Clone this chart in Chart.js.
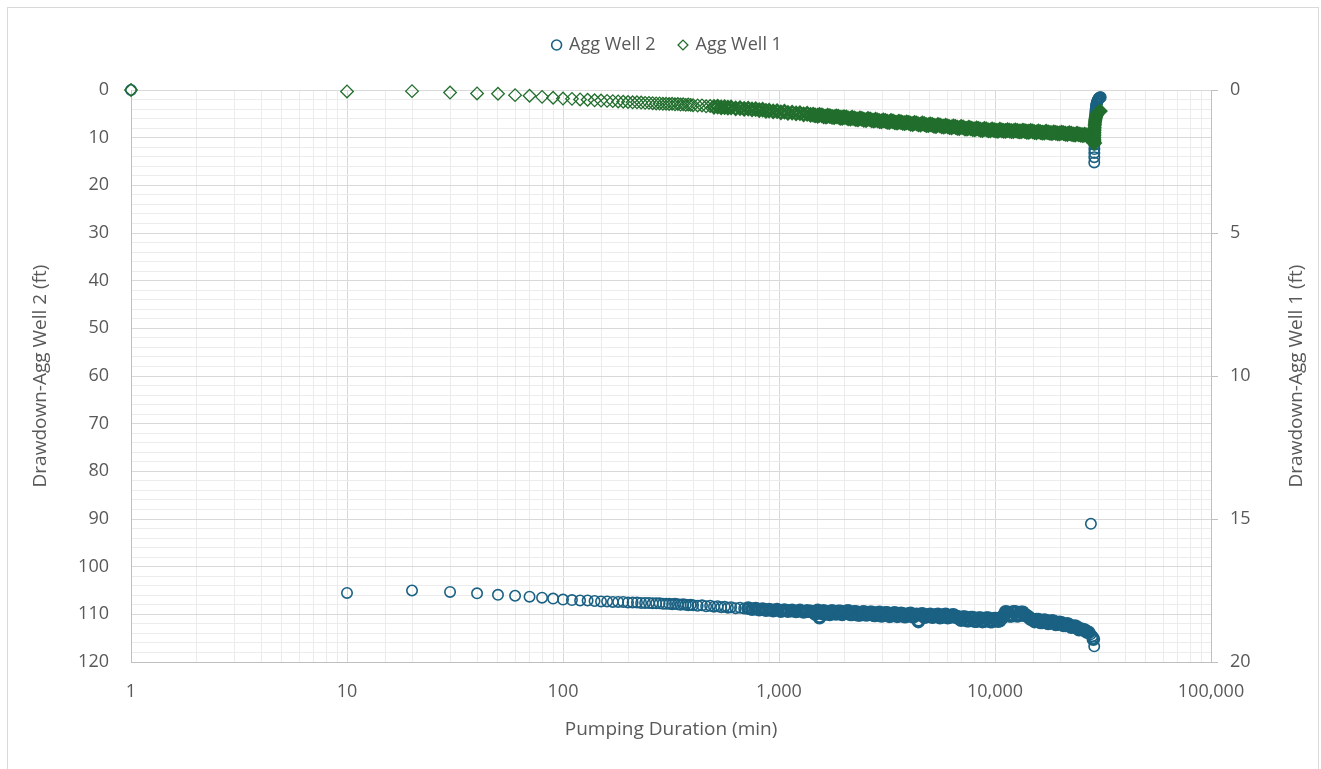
<!DOCTYPE html>
<html>
<head>
<meta charset="utf-8">
<title>Drawdown - Agg Wells</title>
<script src="https://cdn.jsdelivr.net/npm/chart.js@4.4.1/dist/chart.umd.min.js"></script>
<style>
  html, body { margin: 0; padding: 0; background: #ffffff; }
  #marco {
    position: absolute; left: 7px; top: 7px; width: 1312px; height: 800px;
    border: 1px solid #d9d9d9; box-sizing: border-box;
  }
  #contenedor { position: absolute; left: 0; top: 0; width: 1321px; height: 769px; }
</style>
</head>
<body>
<div id="marco"></div>
<div id="contenedor"><canvas id="grafica"></canvas></div>
<script>
// --- Datos ---
// Tiempo de bombeo (min) y luego recuperacion
const tiempos = [
  1, 10, 20, 30, 40, 50, 60, 70, 80, 90, 100,
  110, 120, 130, 140, 150, 160, 170, 180, 190, 200,
  210, 220, 230, 240, 250, 260, 270, 280, 290, 300,
  310, 320, 330, 340, 350, 360, 370, 380, 390, 400,
  420, 440, 460, 480, 500, 520, 540, 560, 580, 600,
  630, 660, 690, 720, 750, 780, 810, 840, 870, 900,
  940, 980, 1020, 1060, 1100, 1150, 1200, 1250, 1300, 1350, 1400,
  1440, 1470, 1510, 1540, 1580, 1610, 1650, 1680, 1720, 1760, 1800, 1840, 1880, 1920, 1960, 2000,
  2050, 2090, 2140, 2180, 2230, 2270, 2320, 2370, 2420, 2470, 2530, 2580, 2640, 2690, 2750, 2800,
  2860, 2920, 2980, 3040, 3110, 3170, 3240, 3300, 3370, 3440, 3520, 3590, 3670, 3740, 3820, 3900,
  3990, 4070, 4160, 4240, 4330, 4420, 4520, 4610, 4710, 4810, 4910, 5010, 5120, 5220, 5330, 5440,
  5560, 5670, 5790, 5910, 6040, 6160, 6290, 6420, 6560, 6690, 6830, 6970, 7120, 7260, 7420, 7570,
  7730, 7890, 8060, 8220, 8400, 8570, 8750, 8930, 9120, 9310, 9510, 9700, 9910, 10110, 10320, 10530,
  10750, 10970, 11200, 11430, 11670, 11910, 12160, 12410, 12670, 12930, 13200, 13470, 13760, 14040, 14340, 14630,
  14940, 15240, 15560, 15880, 16220, 16550, 16900, 17250, 17610, 17970, 18350, 18720, 19120, 19510, 19920, 20330,
  20760, 21180, 21630, 22070, 22540, 23000, 23490, 23970, 24480, 24980, 25510, 26030, 26580, 27120, 27690, 27800, 28260, 28530, 28800,
  28810, 28820, 28830, 28840, 28850, 28860, 28880, 28900, 28920, 28950,
  28980, 29020, 29060, 29100, 29150, 29200, 29260, 29330, 29400, 29480,
  29560, 29650, 29750, 29860, 29980, 30100, 30230, 30370, 30520, 30680, 30850
];

// Abatimiento Agg Well 2 (ft) - eje izquierdo
const abatimientoPozo2 = [
  0, 105.5, 105.0, 105.3, 105.6, 105.9, 106.1, 106.3, 106.5, 106.7, 106.9,
  107.0, 107.1, 107.1, 107.2, 107.3, 107.3, 107.4, 107.4, 107.4, 107.5,
  107.5, 107.5, 107.6, 107.6, 107.6, 107.7, 107.7, 107.7, 107.8, 107.8,
  107.8, 107.9, 107.8, 107.9, 108.0, 107.9, 108.0, 108.1, 108.0, 108.1,
  108.2, 108.1, 108.3, 108.2, 108.4, 108.3, 108.5, 108.4, 108.6, 108.5,
  108.7, 108.6, 108.8, 108.7, 108.9, 108.8, 109.0, 108.9, 109.1, 109.0,
  109.2, 109.0, 109.3, 109.1, 109.3, 109.2, 109.4, 109.2, 109.5, 109.3, 109.4,
  109.5, 109.9, 109.2, 110.7, 109.8, 109.3, 109.9, 109.5, 110.0, 109.3, 109.8, 109.9, 109.4, 109.4, 110.0, 109.8,
  109.4, 109.3, 110.0, 110.0, 109.5, 109.5, 110.1, 110.1, 109.6, 109.5, 110.1, 110.0, 109.6, 109.6, 110.2, 110.2,
  109.7, 109.6, 110.3, 110.2, 109.7, 109.7, 110.4, 110.3, 109.8, 109.7, 110.4, 110.3, 109.8, 109.9, 110.5, 110.4,
  109.9, 109.8, 110.5, 110.4, 110.0, 111.5, 110.0, 109.9, 110.6, 110.5, 110.1, 110.0, 110.6, 110.5, 110.1, 110.0,
  110.7, 110.6, 110.1, 110.0, 110.7, 110.6, 110.2, 110.1, 110.6, 110.5, 110.9, 111.2, 110.6, 110.6, 111.3, 111.3,
  110.7, 110.7, 111.4, 111.4, 110.8, 110.8, 111.5, 111.4, 110.8, 110.8, 111.5, 111.5, 110.9, 110.9, 111.4, 111.3,
  110.8, 110.2, 109.5, 109.6, 110.3, 110.3, 109.5, 109.5, 110.3, 110.2, 109.6, 109.6, 110.2, 110.3, 110.6, 111.0,
  111.1, 111.5, 111.1, 111.1, 111.7, 111.7, 111.2, 111.3, 111.9, 111.8, 111.4, 111.5, 112.1, 112.0, 111.7, 111.8,
  112.3, 112.3, 112.0, 112.2, 112.7, 112.6, 112.5, 112.7, 113.2, 113.1, 113.2, 113.3, 113.7, 113.8, 114.2, 91.0, 114.6, 115.2, 116.7,
  15.2, 14.1, 13.2, 12.4, 11.5, 10.8, 9.9, 9.1, 8.4, 7.6,
  6.9, 6.3, 5.8, 5.3, 4.8, 4.4, 4.0, 3.6, 3.3, 3.0,
  2.8, 2.6, 2.4, 2.2, 2.1, 1.9, 1.8, 1.7, 1.6, 1.5, 1.5
];

// Abatimiento Agg Well 1 (ft) - eje derecho
const abatimientoPozo1 = [
  0, 0.05, 0.04, 0.09, 0.12, 0.13, 0.18, 0.20, 0.24, 0.27, 0.30,
  0.31, 0.33, 0.34, 0.36, 0.37, 0.38, 0.39, 0.40, 0.41, 0.42,
  0.43, 0.43, 0.44, 0.45, 0.45, 0.46, 0.47, 0.47, 0.48, 0.48,
  0.49, 0.48, 0.50, 0.49, 0.51, 0.50, 0.52, 0.51, 0.52, 0.53,
  0.54, 0.54, 0.57, 0.56, 0.59, 0.58, 0.61, 0.60, 0.62, 0.61,
  0.64, 0.63, 0.66, 0.65, 0.68, 0.67, 0.70, 0.69, 0.73, 0.72,
  0.75, 0.74, 0.78, 0.76, 0.80, 0.79, 0.82, 0.81, 0.85, 0.83, 0.87,
  0.86, 0.89, 0.90, 0.87, 0.89, 0.92, 0.93, 0.90, 0.91, 0.94, 0.95, 0.92, 0.93, 0.97, 0.97, 0.95,
  0.96, 0.99, 1.00, 0.97, 0.99, 1.02, 1.03, 0.99, 1.01, 1.04, 1.05, 1.01, 1.03, 1.06, 1.07, 1.04,
  1.06, 1.09, 1.10, 1.06, 1.08, 1.11, 1.12, 1.08, 1.10, 1.13, 1.14, 1.11, 1.12, 1.15, 1.16, 1.13,
  1.15, 1.18, 1.19, 1.15, 1.17, 1.20, 1.21, 1.17, 1.19, 1.23, 1.23, 1.20, 1.22, 1.25, 1.26, 1.22,
  1.24, 1.27, 1.28, 1.25, 1.27, 1.30, 1.31, 1.27, 1.29, 1.32, 1.33, 1.29, 1.31, 1.35, 1.35, 1.32,
  1.34, 1.37, 1.38, 1.34, 1.36, 1.39, 1.40, 1.36, 1.38, 1.41, 1.41, 1.38, 1.40, 1.42, 1.43, 1.39,
  1.41, 1.43, 1.43, 1.40, 1.42, 1.44, 1.44, 1.41, 1.43, 1.45, 1.45, 1.42, 1.44, 1.46, 1.46, 1.43,
  1.45, 1.47, 1.48, 1.45, 1.47, 1.49, 1.49, 1.46, 1.48, 1.50, 1.51, 1.48, 1.50, 1.52, 1.52, 1.49,
  1.51, 1.53, 1.54, 1.51, 1.53, 1.55, 1.56, 1.53, 1.55, 1.57, 1.58, 1.56, 1.59, 1.61, 1.64, 1.63, 1.70, 1.76, 1.85,
  1.80, 1.74, 1.67, 1.60, 1.54, 1.48, 1.42, 1.36, 1.31, 1.25,
  1.20, 1.15, 1.11, 1.07, 1.03, 1.00, 0.97, 0.94, 0.91, 0.89,
  0.87, 0.85, 0.83, 0.81, 0.80, 0.78, 0.77, 0.76, 0.75, 0.74, 0.73
];

// Ejes
const ejeX = { min: 1, max: 100000 };
const ejeIzq = { min: 0, max: 120, paso: 2, pasoEtiqueta: 10 };
const ejeDer = { min: 0, max: 20, paso: 5 };

const GRIS_TEXTO = '#595959';
const GRIS_MAYOR = '#d9d9d9';
const GRIS_MENOR = '#ececec';
const GRIS_EJE = '#bfbfbf';

Chart.defaults.font.family = "'Open Sans', sans-serif";
Chart.defaults.color = GRIS_TEXTO;

// La leyenda ocupa mas alto para dejar el area de trazado en y=90
const ajusteLeyenda = {
  id: 'ajusteLeyenda',
  beforeLayout(chart) {
    const ley = chart.legend;
    if (ley && !ley._ajustada) {
      const fitOriginal = ley.fit.bind(ley);
      ley.fit = function () { fitOriginal(); this.height = 78; };
      ley._ajustada = true;
    }
  }
};

// Titulo del eje derecho leido de abajo hacia arriba, como en Excel
const tituloDerecho = {
  id: 'tituloDerecho',
  afterDraw(chart) {
    const { ctx, chartArea } = chart;
    ctx.save();
    ctx.translate(1297, (chartArea.top + chartArea.bottom) / 2);
    ctx.rotate(-Math.PI / 2);
    ctx.font = "19px 'Open Sans'";
    ctx.fillStyle = GRIS_TEXTO;
    ctx.textAlign = 'center';
    ctx.textBaseline = 'middle';
    ctx.fillText('Drawdown-Agg Well 1 (ft)', 0, 0);
    ctx.restore();
  }
};

function esPotenciaDiez(v) {
  const l = Math.log10(v);
  return Math.abs(l - Math.round(l)) < 1e-9;
}

// En el tramo denso del bombeo (miles de lecturas en el original) los
// marcadores se amontonan y forman una banda llena: se engruesa el trazo
function grosorBanda(valores, fino, grueso, umbral, desde) {
  return (c) => {
    const i = c.dataIndex;
    const t = tiempos[i];
    if (t < desde || t > 28800) return fino;
    const cerca = (v) => v !== undefined && Math.abs(v - valores[i]) < umbral;
    return (cerca(valores[i - 1]) && cerca(valores[i + 1])) ? grueso : fino;
  };
}

const ctx = document.getElementById('grafica').getContext('2d');
new Chart(ctx, {
  type: 'scatter',
  data: {
    datasets: [
      {
        label: 'Agg Well 1',
        data: tiempos.map((t, i) => ({ x: t, y: abatimientoPozo1[i] })),
        yAxisID: 'y1',
        clip: false,
        pointStyle: 'rectRot',
        pointRadius: 6.3,
        pointBorderWidth: grosorBanda(abatimientoPozo1, 1.3, 2.6, 0.3, 500),
        borderWidth: 1.3,
        borderColor: '#216e2d',
        backgroundColor: 'rgba(0,0,0,0)'
      },
      {
        label: 'Agg Well 2',
        data: tiempos.map((t, i) => ({ x: t, y: abatimientoPozo2[i] })),
        yAxisID: 'y',
        clip: false,
        pointStyle: 'circle',
        pointRadius: 5.2,
        pointBorderWidth: grosorBanda(abatimientoPozo2, 1.6, 3.4, 2, 700),
        borderWidth: 1.6,
        borderColor: '#1a6183',
        backgroundColor: 'rgba(0,0,0,0)'
      }
    ]
  },
  options: {
    responsive: true,
    maintainAspectRatio: false,
    animation: false,
    events: [],
    layout: { padding: { left: 14, right: 0, top: 12, bottom: 0 } },
    plugins: {
      legend: {
        position: 'top',
        labels: {
          usePointStyle: true,
          boxWidth: 7,
          boxHeight: 7,
          padding: 24,
          color: GRIS_TEXTO,
          font: { size: 18 },
          sort: (a, b) => b.datasetIndex - a.datasetIndex
        }
      },
      tooltip: { enabled: false }
    },
    scales: {
      x: {
        type: 'logarithmic',
        min: ejeX.min,
        max: ejeX.max,
        afterFit: (s) => { s.height = 107; },
        border: { color: GRIS_EJE },
        grid: {
          drawTicks: false,
          color: (c) => (c.tick && esPotenciaDiez(c.tick.value)) ? GRIS_MAYOR : GRIS_MENOR
        },
        ticks: {
          autoSkip: false,
          maxRotation: 0,
          padding: 19,
          font: { size: 18 },
          callback: (v) => esPotenciaDiez(v) ? Number(v).toLocaleString('en-US') : ''
        },
        title: {
          display: true,
          text: 'Pumping Duration (min)',
          font: { size: 19 },
          padding: { top: 0, bottom: 28 }
        }
      },
      y: {
        type: 'linear',
        position: 'left',
        reverse: true,
        min: ejeIzq.min,
        max: ejeIzq.max,
        afterFit: (s) => { s.width = 117; },
        border: { color: GRIS_EJE },
        grid: {
          drawTicks: false,
          color: (c) => (c.tick && c.tick.value % ejeIzq.pasoEtiqueta === 0) ? GRIS_MAYOR : GRIS_MENOR
        },
        ticks: {
          stepSize: ejeIzq.paso,
          autoSkip: false,
          padding: 22,
          font: { size: 18 },
          callback: (v) => v % ejeIzq.pasoEtiqueta === 0 ? v : ''
        },
        title: {
          display: true,
          text: 'Drawdown-Agg Well 2 (ft)',
          font: { size: 19 },
          padding: { top: 15, bottom: 0 }
        }
      },
      y1: {
        type: 'linear',
        position: 'right',
        reverse: true,
        min: ejeDer.min,
        max: ejeDer.max,
        afterFit: (s) => { s.width = 110; },
        border: { color: GRIS_EJE },
        grid: {
          drawOnChartArea: false,
          drawTicks: true,
          tickLength: 7,
          color: GRIS_EJE
        },
        ticks: {
          stepSize: ejeDer.paso,
          padding: 12,
          font: { size: 18 }
        }
      }
    }
  },
  plugins: [ajusteLeyenda, tituloDerecho]
});
</script>
</body>
</html>
